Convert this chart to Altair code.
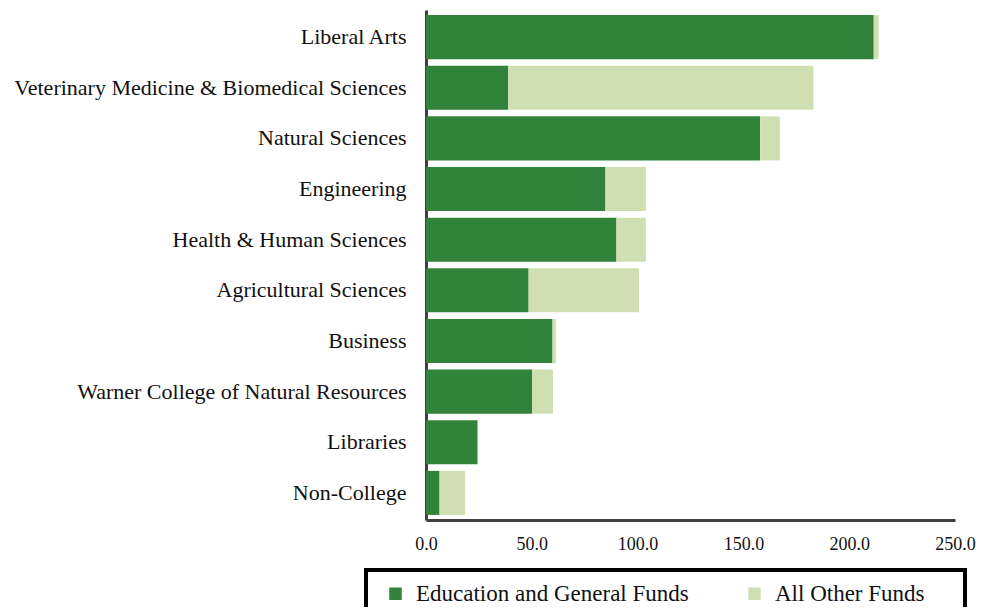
import altair as alt
import pandas as pd

colleges = [
    "Liberal Arts",
    "Veterinary Medicine & Biomedical Sciences",
    "Natural Sciences",
    "Engineering",
    "Health & Human Sciences",
    "Agricultural Sciences",
    "Business",
    "Warner College of Natural Resources",
    "Libraries",
    "Non-College",
]
edu_general = [211.6, 38.8, 157.9, 84.8, 90.0, 48.5, 59.8, 50.1, 24.4, 6.4]
all_other = [2.3, 144.3, 9.3, 19.1, 13.9, 52.2, 1.6, 9.9, 0.3, 12.1]
series = ["Education and General Funds", "All Other Funds"]
colors = ["#31823A", "#CFDFB2"]
x_ticks = [0, 50, 100, 150, 200, 250]

rows = []
for c, e, o in zip(colleges, edu_general, all_other):
    rows.append({"college": c, "fund": series[0], "value": e, "idx": 0})
    rows.append({"college": c, "fund": series[1], "value": o, "idx": 1})
df = pd.DataFrame(rows)

FONT = "Liberation Serif"

chart = (
    alt.Chart(df)
    .mark_bar()
    .encode(
        x=alt.X(
            "value:Q",
            stack="zero",
            scale=alt.Scale(domain=[0, 250], nice=False, zero=True),
            axis=alt.Axis(
                values=x_ticks,
                format=".1f",
                title=None,
                grid=False,
                ticks=False,
                tickSize=0,
                labelFlush=False,
                labelOverlap=False,
                labelPadding=15,
                labelFontSize=18,
                labelFont=FONT,
                labelColor="#111111",
                domainColor="#404040",
                domainWidth=3,
            ),
        ),
        y=alt.Y(
            "college:N",
            sort=colleges,
            scale=alt.Scale(paddingInner=0.13, paddingOuter=0.1),
            axis=alt.Axis(
                title=None,
                ticks=False,
                tickSize=0,
                labelPadding=20,
                labelFontSize=22,
                labelFont=FONT,
                labelColor="#111111",
                labelLimit=600,
                domainColor="#404040",
                domainWidth=3,
            ),
        ),
        color=alt.Color(
            "fund:N",
            scale=alt.Scale(domain=series, range=colors),
            sort=series,
            legend=alt.Legend(
                title=" ",
                titleOrient="right",
                titleFontSize=1,
                titlePadding=28,
                orient="none",
                legendX=-60,
                legendY=560,
                direction="horizontal",
                columns=2,
                padding=12,
                symbolOffset=6,
                labelOffset=9,
                columnPadding=48,
                strokeColor="black",
                symbolType="square",
                symbolSize=156,
                symbolStrokeWidth=0,
                symbolOpacity=1,
                labelFontSize=23,
                labelFont=FONT,
                labelColor="#111111",
                labelLimit=600,
            ),
        ),
        order=alt.Order("idx:Q"),
    )
    .properties(
        width=529,
        height=510,
        autosize=alt.AutoSizeParams(type="none"),
        padding={"left": 418, "top": 2, "right": 21, "bottom": 87},
    )
    .configure_view(stroke=None)
    .configure_legend(strokeWidth=4)
)

chart.save("out.html", embed_options={"renderer": "svg", "actions": False})
